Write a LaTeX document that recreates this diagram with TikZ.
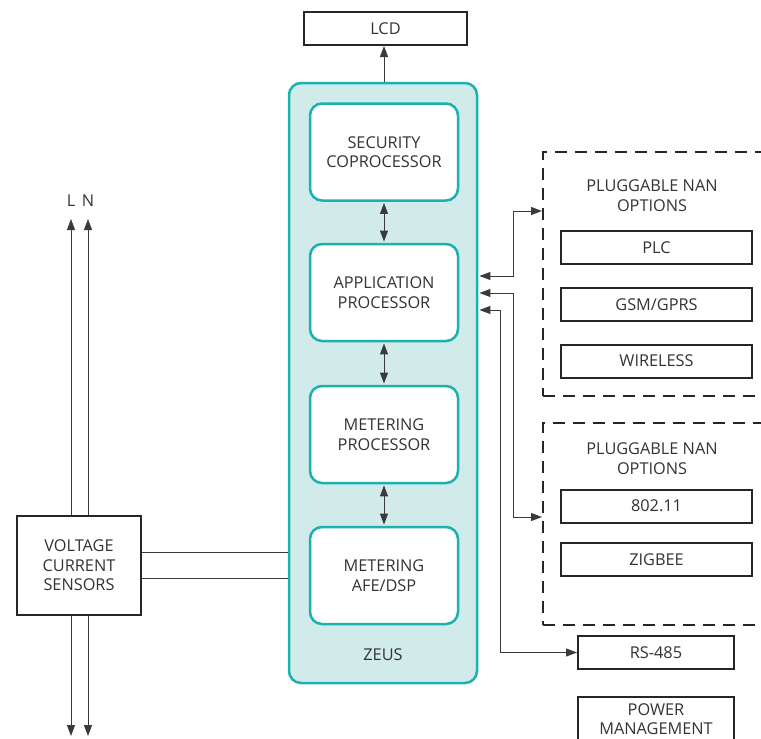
\documentclass[tikz,border=0pt]{standalone}
\usepackage{fontspec}
\setmainfont{Open Sans}
\usetikzlibrary{arrows.meta}
\definecolor{tealline}{HTML}{1AB2AE}
\definecolor{tealfill}{HTML}{D1EBEA}
\definecolor{txt}{HTML}{333333}
\definecolor{wirec}{HTML}{3A3A3A}
\begin{document}
\begin{tikzpicture}[x=1pt,y=-1pt,
  font=\fontsize{16.3}{19.5}\selectfont, text=txt,
  box/.style={draw=black!85, line width=2pt, fill=white, inner sep=0pt, align=center},
  optbox/.style={box, minimum width=191pt, minimum height=33pt},
  proc/.style={draw=tealline, line width=2.5pt, fill=white, rounded corners=12pt,
    minimum width=148pt, minimum height=97pt, inner sep=0pt, align=center},
  dashbox/.style={draw=black!85, line width=2pt, dash pattern=on 12pt off 8pt, inner sep=0pt},
  lbl/.style={inner sep=0pt, align=center},
  wire/.style={draw=wirec, line width=1pt},
  tip/.style={-{Triangle[length=11pt,width=8pt]}},
  tips/.style={{Triangle[length=11pt,width=8pt]}-{Triangle[length=11pt,width=8pt]}}
]
\useasboundingbox (0,0) rectangle (761,739);
\clip (0,0) rectangle (761,739);

% LCD
\node[box, minimum width=163pt, minimum height=33pt] (lcd) at (385.5,28.5) {LCD};

% ZEUS block
\node[draw=tealline, fill=tealfill, line width=2.5pt, rounded corners=12pt,
  minimum width=188pt, minimum height=600pt, inner sep=0pt] (zeus) at (383,383) {};
\node[lbl] (zl) at (383,655) {ZEUS};
\node[proc] (sec) at (384,152) {SECURITY\\COPROCESSOR};
\node[proc] (app) at (384,292.5) {APPLICATION\\PROCESSOR};
\node[proc] (met) at (384,434.5) {METERING\\PROCESSOR};
\node[proc] (afe) at (384,575.5) {METERING\\AFE/DSP};

% NAN option groups
\node[dashbox, minimum width=240pt, minimum height=244pt] (nan1) at (663,274) {};
\node[lbl] (t1) at (652,195.5) {PLUGGABLE NAN\\OPTIONS};
\node[optbox] (plc) at (656.5,247.5) {PLC};
\node[optbox] (gsm) at (656.5,304.5) {GSM/GPRS};
\node[optbox] (wl) at (656.5,361) {WIRELESS};

\node[dashbox, minimum width=240pt, minimum height=202pt] (nan2) at (663,524) {};
\node[lbl] (t2) at (652,458.5) {PLUGGABLE NAN\\OPTIONS};
\node[optbox] (wifi) at (656.5,506) {802.11};
\node[optbox] (zig) at (656.5,559.5) {ZIGBEE};

\node[box, minimum width=156pt, minimum height=33pt] (rs) at (656,652.5) {RS-485};
\node[box, minimum width=156pt, minimum height=44pt] (pwr) at (656,719) {POWER\\MANAGEMENT};

% Sensors
\node[box, minimum width=124pt, minimum height=99pt] (vcs) at (79,565.5) {VOLTAGE\\CURRENT\\SENSORS};
\node[lbl] (lL) at (71,201) {L};
\node[lbl] (lN) at (88,201) {N};
\coordinate (Ltop) at (71,219);
\coordinate (Ntop) at (88,219);
\coordinate (Lbot) at (71,736);
\coordinate (Nbot) at (88,736);

% connectors
\draw[wire, tip] (sec.north |- zeus.north) -- (sec.north |- lcd.south);
\draw[wire, tips, shorten <=1.2pt, shorten >=1.2pt] (sec.south) -- (app.north);
\draw[wire, tips, shorten <=1.2pt, shorten >=1.2pt] (app.south) -- (met.north);
\draw[wire, tips, shorten <=1.2pt, shorten >=1.2pt] (met.south) -- (afe.north);

\draw[wire, tips, shorten <=1.2pt] (zeus.east |- 0,276) -| (513,211) -- (nan1.west |- 0,211);
\draw[wire, tips, shorten <=1.2pt] (zeus.east |- 0,293) -| (513,517) -- (nan2.west |- 0,517);
\draw[wire, tips, shorten <=1.2pt] (zeus.east |- 0,310) -| (500,652.5) -- (rs.west);

\draw[wire] (vcs.east |- 0,552) -- (zeus.west |- 0,552);
\draw[wire] (vcs.east |- 0,578) -- (zeus.west |- 0,578);

\draw[wire, tip] (vcs.north -| Ltop) -- (Ltop);
\draw[wire, tip] (vcs.north -| Ntop) -- (Ntop);
\draw[wire, tip] (vcs.south -| Lbot) -- (Lbot);
\draw[wire, tip] (vcs.south -| Nbot) -- (Nbot);
\end{tikzpicture}
\end{document}
